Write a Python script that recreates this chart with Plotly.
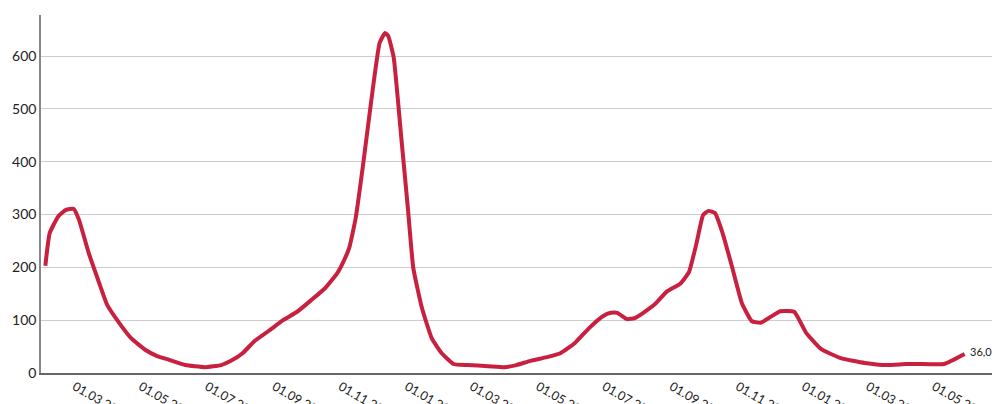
import plotly.graph_objects as go

dates = [
    "2023-02-02", "2023-02-06", "2023-02-14", "2023-02-21", "2023-02-28", "2023-03-05",
    "2023-03-14", "2023-03-22", "2023-03-31", "2023-04-11", "2023-04-22", "2023-05-05",
    "2023-05-16", "2023-05-27", "2023-06-11", "2023-06-29", "2023-07-14", "2023-07-23",
    "2023-08-03", "2023-08-14", "2023-08-27", "2023-09-09", "2023-09-22", "2023-10-05",
    "2023-10-18", "2023-10-29", "2023-11-03", "2023-11-09", "2023-11-15", "2023-11-22",
    "2023-11-29", "2023-12-07", "2023-12-12", "2023-12-15", "2023-12-20", "2023-12-27",
    "2024-01-02", "2024-01-07", "2024-01-15", "2024-01-24", "2024-02-02", "2024-02-13",
    "2024-02-26", "2024-03-16", "2024-03-31", "2024-04-11", "2024-04-24", "2024-05-09",
    "2024-05-22", "2024-06-04", "2024-06-17", "2024-06-30", "2024-07-07", "2024-07-13",
    "2024-07-22", "2024-07-29", "2024-08-06", "2024-08-17", "2024-08-28", "2024-09-09",
    "2024-09-17", "2024-09-24", "2024-09-30", "2024-10-05", "2024-10-11", "2024-10-18",
    "2024-10-27", "2024-11-05", "2024-11-14", "2024-11-22", "2024-12-01", "2024-12-10",
    "2024-12-23", "2025-01-03", "2025-01-17", "2025-02-04", "2025-02-26", "2025-03-18",
    "2025-04-05", "2025-04-16", "2025-05-10", "2025-05-29",
]
values = [
    203, 265, 297, 309, 311, 290,
    227, 180, 129, 95, 66, 44,
    32, 25, 15, 11, 15, 23,
    38, 61, 80, 100, 116, 138,
    161, 189, 208, 237, 294, 398,
    511, 625, 644, 638, 597, 445,
    313, 199, 123, 66, 38, 17,
    15, 13, 11, 15, 23, 30,
    38, 57, 85, 108, 114, 114,
    102, 104, 114, 131, 155, 169,
    191, 246, 299, 307, 303, 265,
    199, 131, 98, 95, 106, 117,
    116, 76, 45, 28, 19, 15,
    17, 17, 17, 36.02,
]
tick_dates = [
    "2023-03-01", "2023-05-01", "2023-07-01", "2023-09-01", "2023-11-01",
    "2024-01-01", "2024-03-01", "2024-05-01", "2024-07-01", "2024-09-01",
    "2024-11-01", "2025-01-01", "2025-03-01", "2025-05-01",
]
tick_labels = [d[8:10] + "." + d[5:7] + "." + d[0:4] for d in tick_dates]
last_label = "36,02"

fig = go.Figure()

fig.add_trace(go.Scatter(
    x=dates, y=values, mode="lines",
    line={"color": "#c8203f", "width": 4, "shape": "spline", "smoothing": 0.4},
    hoverinfo="skip",
))

fig.add_annotation(
    x=dates[-1], y=values[-1], text=last_label, showarrow=False,
    xanchor="left", xshift=3, yshift=2,
    font={"size": 11, "color": "#222"},
)

fig.update_layout(
    width=1000, height=404,
    margin={"l": 33, "r": 13, "t": 7, "b": 39},
    plot_bgcolor="white", paper_bgcolor="white",
    showlegend=False,
    font={"family": "Lato, sans-serif", "size": 13, "color": "#222"},
    xaxis={
        "range": ["2023-01-29", "2025-06-26"], "automargin": False,
        "tickvals": tick_dates, "ticktext": tick_labels,
        "showgrid": False, "showline": True, "linecolor": "#666", "linewidth": 1.5,
        "ticks": "", "tickfont": {"size": 12.5},
    },
    yaxis={
        "range": [0, 678], "tickvals": [0, 100, 200, 300, 400, 500, 600],
        "automargin": False,
        "showgrid": True, "gridcolor": "#cccccc", "gridwidth": 1,
        "showline": True, "linecolor": "#888", "linewidth": 1.5,
        "zeroline": False, "ticks": "", "tickfont": {"size": 14},
    },
)

fig.write_html("out.html")
